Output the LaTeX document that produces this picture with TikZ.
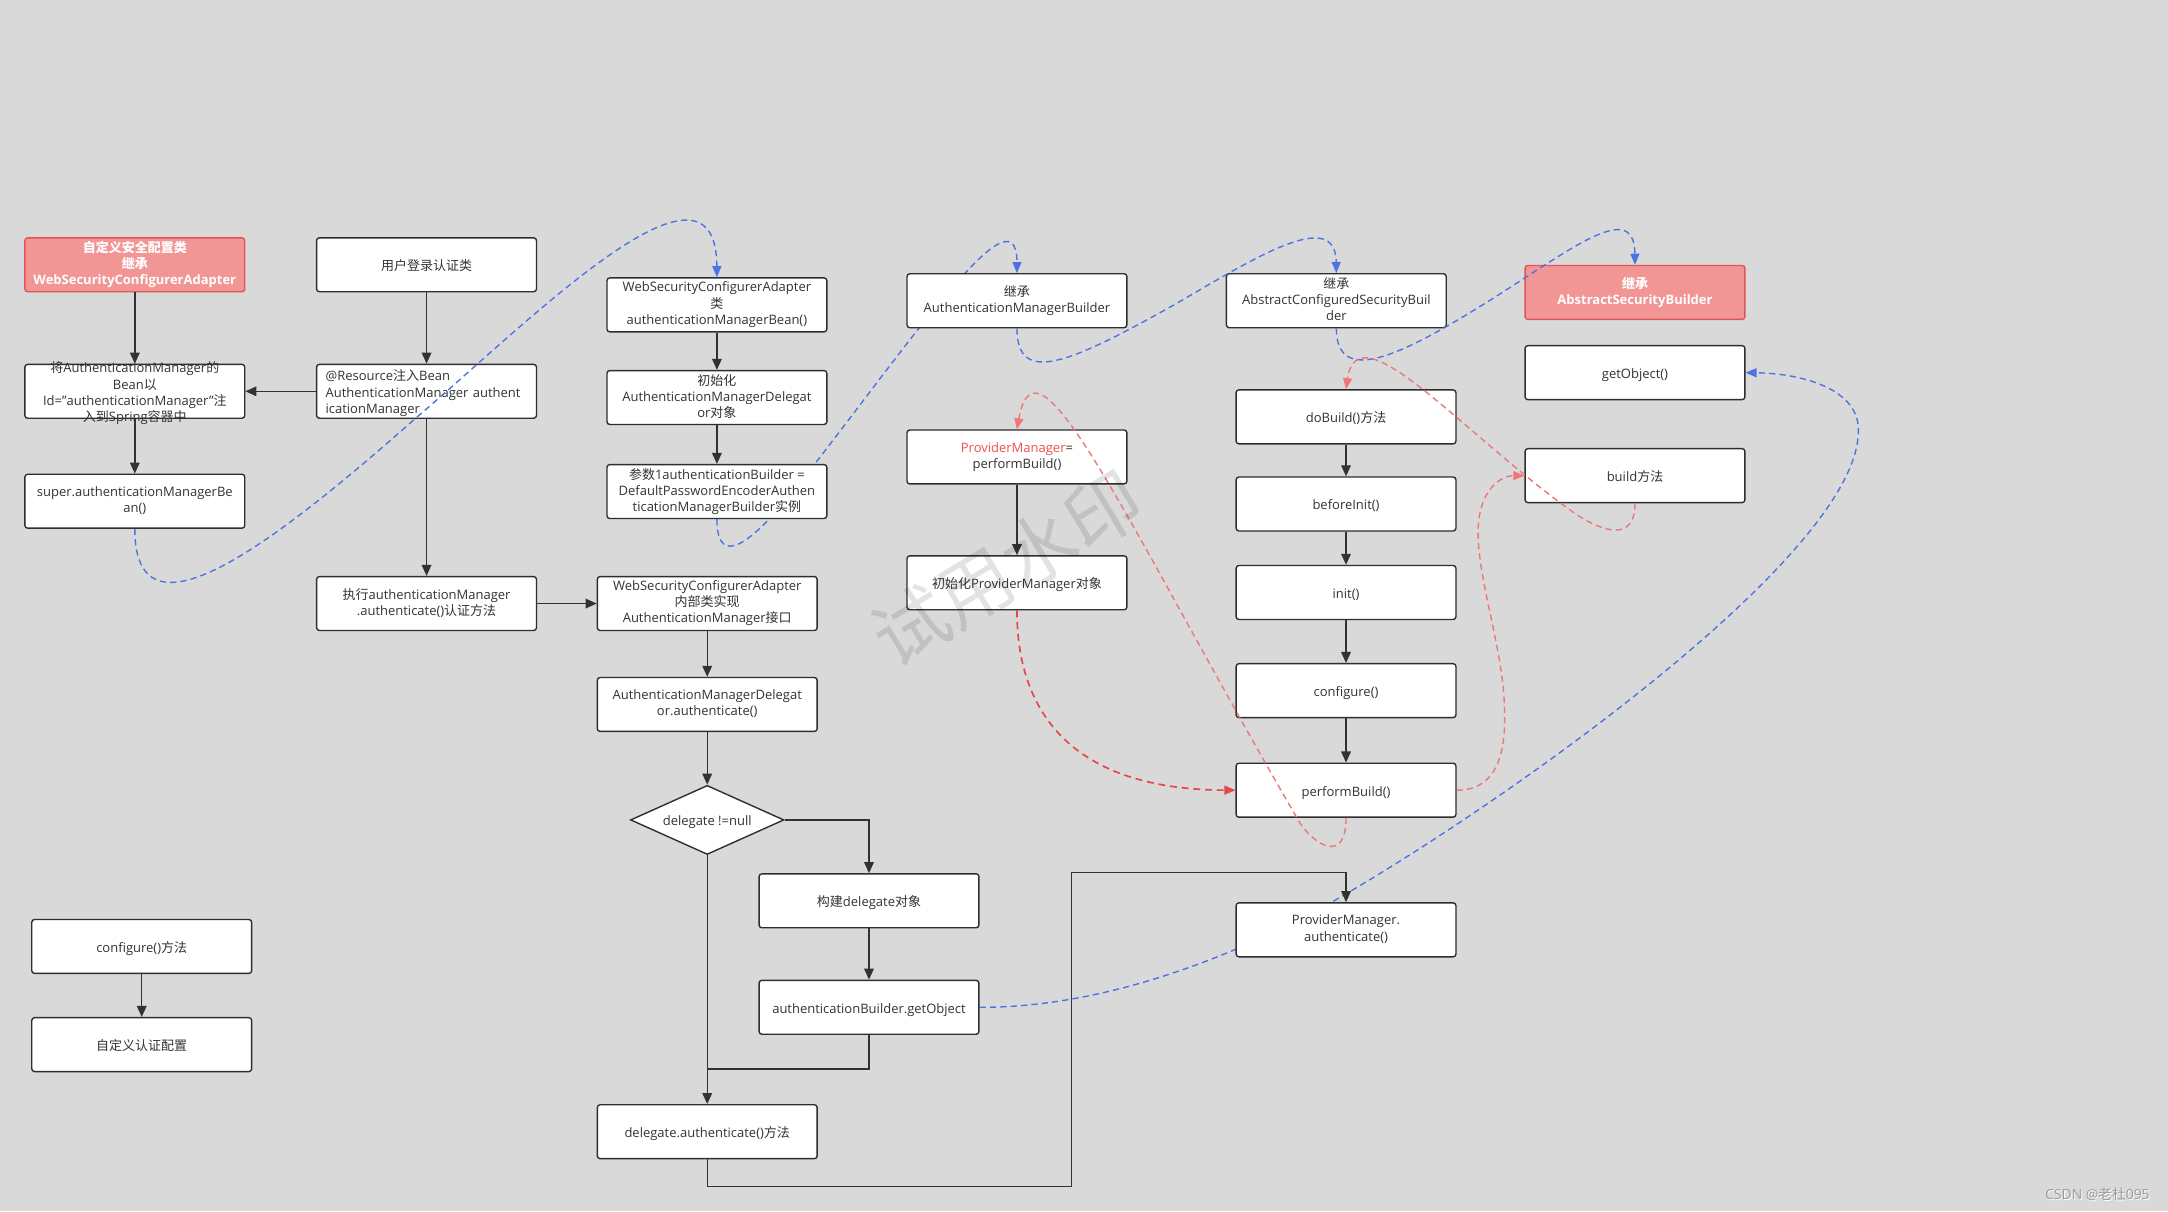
\documentclass[tikz,border=0pt]{standalone}
\usepackage{fontspec}
\setmainfont{Open Sans}
\newfontfamily\cjk{Noto Sans CJK SC}
\usetikzlibrary{arrows.meta,shapes.geometric}
\newcommand{\zh}[1]{{\cjk #1}}
\newcommand{\boxfont}{\fontsize{9.4}{11.7}\selectfont}
\definecolor{bgc}{RGB}{217,217,217}
\definecolor{boxline}{RGB}{45,45,50}
\definecolor{txt}{RGB}{51,51,51}
\definecolor{linecol}{RGB}{50,50,50}
\definecolor{redfill}{RGB}{241,150,148}
\definecolor{redline}{RGB}{226,85,85}
\definecolor{bluec}{RGB}{78,114,228}
\definecolor{redA}{RGB}{232,70,70}
\definecolor{redB}{RGB}{238,118,118}
\definecolor{pmred}{RGB}{240,80,80}
\pgfdeclarelayer{bgl}
\pgfdeclarelayer{underl}
\pgfsetlayers{bgl,underl,main}
\tikzset{
  box/.style={draw=boxline, fill=white, rounded corners=2pt, minimum width=159pt,
    minimum height=39pt, line width=1pt, align=center, text=txt, font=\boxfont, inner sep=1pt,
    execute at begin node={\rule{0pt}{11pt}}, execute at end node={\rule[-2.6pt]{0pt}{0pt}}},
  redbox/.style={box, draw=redline, fill=redfill, text=white, font=\boxfont\bfseries},
  dia/.style={shape=diamond, draw=boxline, fill=white, line width=1pt, minimum width=111pt,
    minimum height=50pt, inner sep=0pt, aspect=2.2, font=\boxfont, text=txt,
    execute at begin node={\rule{0pt}{11pt}}, execute at end node={\rule[-2.6pt]{0pt}{0pt}}},
  arr/.style={draw=linecol, line width=1pt, -{Triangle[length=8pt,width=7pt]}},
  ln/.style={draw=linecol, line width=1pt},
  bdash/.style={draw=bluec, line width=1pt, dash pattern=on 4.5pt off 3pt, -{Triangle[length=8pt,width=6.5pt]}},
  rdashA/.style={draw=redA, line width=1.2pt, dash pattern=on 5pt off 3.5pt, -{Triangle[length=8pt,width=6.5pt]}},
  rdash/.style={draw=redB, line width=1pt, dash pattern=on 4.5pt off 3pt, -{Triangle[length=8pt,width=6.5pt]}},
}
\begin{document}
\begin{tikzpicture}[x=1pt,y=-1pt]
\useasboundingbox (0,0) rectangle (1568,876);
\begin{pgfonlayer}{bgl}
\fill[bgc] (0,0) rectangle (1568,876);
\end{pgfonlayer}

% column 1
\node[redbox] (red1) at (97.5,191.5) {\zh{自定义安全配置类}\\\zh{继承}\\WebSecurityConfigurerAdapter};
\node[box] (inject) at (97.5,283) {\smash{\begin{tabular}{@{}c@{}}\zh{将}AuthenticationManager\zh{的}\\Bean\zh{以}\\Id="authenticationManager"\zh{注}\\\zh{入到}Spring\zh{容器中}\end{tabular}}};
\node[box] (superb) at (97.5,362.5) {super.authenticationManagerBe\\an()};
\node[box] (conf2) at (102.5,684.5) {configure()\zh{方法}};
\node[box] (custom) at (102.5,755.5) {\zh{自定义认证配置}};

% column 2
\node[box] (login) at (308.5,191.5) {\zh{用户登录认证类}};
\node[box, text width=146pt, align=left] (resource) at (308.5,283) {@Resource\zh{注入}Bean\\AuthenticationManager authent\\icationManager};
\node[box] (exec) at (308.5,436.5) {\zh{执行}authenticationManager\\.authenticate()\zh{认证方法}};

% column 3
\node[box] (wscab) at (518.5,220.5) {WebSecurityConfigurerAdapter\\\zh{类}\\authenticationManagerBean()};
\node[box] (initamd) at (518.5,287.5) {\zh{初始化}\\AuthenticationManagerDelegat\\or\zh{对象}};
\node[box] (param) at (518.5,355.5) {\zh{参数}1authenticationBuilder =\\DefaultPasswordEncoderAuthen\\ticationManagerBuilder\zh{实例}};
\node[box] (inner) at (511.5,436.5) {WebSecurityConfigurerAdapter\\\zh{内部类实现}\\AuthenticationManager\zh{接口}};
\node[box] (amdauth) at (511.5,509.5) {AuthenticationManagerDelegat\\or.authenticate()};
\node[dia] (dia) at (511.5,593) {delegate !=null};
\node[box] (builddel) at (628.5,651.5) {\zh{构建}delegate\zh{对象}};
\node[box] (abget) at (628.5,728.5) {authenticationBuilder.getObject};
\node[box] (delauth) at (511.5,818.5) {delegate.authenticate()\zh{方法}};

% column 4
\node[box] (amb) at (735.5,217.5) {\zh{继承}\\AuthenticationManagerBuilder};
\node[box] (pmpb) at (735.5,330.5) {\textcolor{pmred}{ProviderManager}=\\performBuild()};
\node[box] (initpm) at (735.5,421.5) {\zh{初始化}ProviderManager\zh{对象}};

% column 5
\node[box] (acsb) at (966.5,217.5) {\zh{继承}\\AbstractConfiguredSecurityBuil\\der};
\node[box] (dobuild) at (973.5,301.5) {doBuild()\zh{方法}};
\node[box] (beforeinit) at (973.5,364.5) {beforeInit()};
\node[box] (init) at (973.5,428.5) {init()};
\node[box] (configure) at (973.5,499.5) {configure()};
\node[box] (performbuild) at (973.5,571.5) {performBuild()};
\node[box] (pmauth) at (973.5,672.5) {ProviderManager.\\authenticate()};

% column 6
\node[redbox] (red2) at (1182.5,211.5) {\zh{继承}\\AbstractSecurityBuilder};
\node[box] (getobj) at (1182.5,269.5) {getObject()};
\node[box] (buildm) at (1182.5,344) {build\zh{方法}};

% curves hidden under boxes
\begin{pgfonlayer}{underl}
\draw[bdash] (param.south) .. controls (518.5,405) and (535,402) .. (570,360)
  .. controls (650,260) and (735.5,130) .. (amb.north);
\draw[bdash] (abget.east) .. controls (800,729) and (900,690) .. (976,645)
  .. controls (1100,572) and (1342,400) .. (1344,313)
  .. controls (1346,280) and (1300,270) .. (getobj.east);
\end{pgfonlayer}

% solid connectors
\draw[arr] (red1) -- (inject);
\draw[arr] (login) -- (resource);
\draw[arr] (resource) -- (inject);
\draw[arr] (inject) -- (superb);
\draw[arr] (resource) -- (exec);
\draw[arr] (exec) -- (inner);
\draw[arr] (wscab) -- (initamd);
\draw[arr] (initamd) -- (param);
\draw[arr] (inner) -- (amdauth);
\draw[arr] (amdauth) -- (dia);
\draw[arr] (dia.east) -| (builddel.north);
\draw[arr] (builddel) -- (abget);
\coordinate (join) at (511.5,773);
\draw[ln] (abget.south) |- (join);
\draw[arr] (dia.south) -- (delauth.north);
\coordinate (c1) at (775,858);
\coordinate (c2) at (775,631);
\draw[arr] (delauth.south) |- (c1) -- (c2) -| (pmauth.north);
\draw[arr] (pmpb) -- (initpm);
\draw[arr] (dobuild) -- (beforeinit);
\draw[arr] (beforeinit) -- (init);
\draw[arr] (init) -- (configure);
\draw[arr] (configure) -- (performbuild);
\draw[arr] (conf2) -- (custom);

% blue dashed curves over boxes
\draw[bdash] (superb.south) .. controls (97.5,465) and (185,405) .. (300,303)
  .. controls (380,235) and (518,95) .. (wscab.north);
\draw[bdash] (amb.south) .. controls (735.5,280) and (775,262) .. (850,220)
  .. controls (910,185) and (966,150) .. (acsb.north);
\draw[bdash] (acsb.south) .. controls (966.5,278) and (1010,258) .. (1060,228)
  .. controls (1130,186) and (1182,140) .. (red2.north);

% red dashed curves
\draw[rdashA] (initpm.south) .. controls (735.5,520) and (780,571) .. (performbuild.west);
\draw[rdash] (performbuild.south) .. controls (973.5,625) and (951,611.6) .. (940,595)
  .. controls (815,380) and (750,230) .. (pmpb.north);
\draw[rdash] (performbuild.east) .. controls (1080,571.5) and (1090,550) .. (1088,510)
  .. controls (1087,470) and (1069,420) .. (1069,385)
  .. controls (1069,355) and (1085,344) .. (buildm.west);
\draw[rdash] (buildm.south) .. controls (1182.5,392) and (1160,385) .. (1140,372)
  .. controls (1060,316) and (982,222) .. (dobuild.north);

% watermark
\node[rotate=31, font=\cjk\fontsize{54}{54}\selectfont, text=black, opacity=0.11] (wm) at (728,411) {试用水印};

% credit
\node[font=\fontsize{10}{12}\selectfont, text=white] (csdnw) at (1517.6,864.6) {CSDN @\zh{老杜}095};
\node[font=\fontsize{10}{12}\selectfont, text=black!40] (csdn) at (1517,864) {CSDN @\zh{老杜}095};
\end{tikzpicture}
\end{document}
